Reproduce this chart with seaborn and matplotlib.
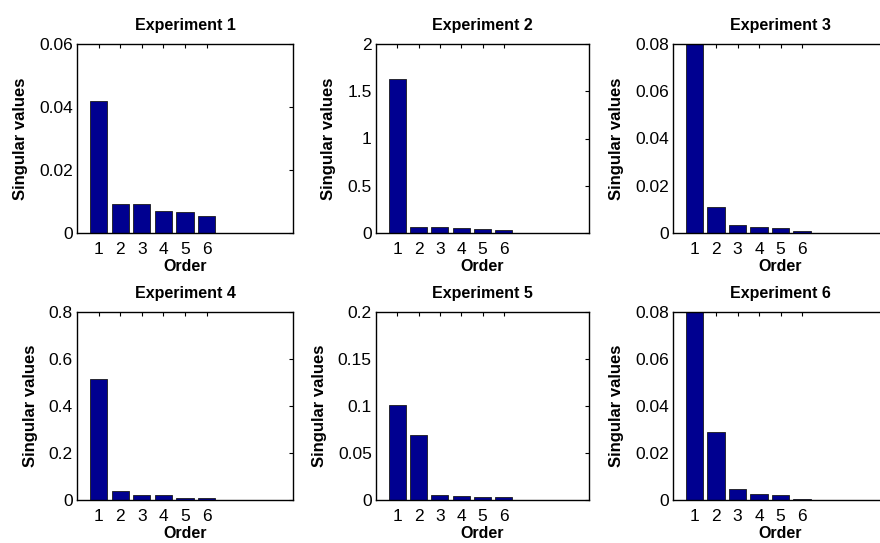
import matplotlib
matplotlib.use("Agg")
import matplotlib.pyplot as plt
import seaborn as sns
import pandas as pd

# singular values, per experiment
order = [1, 2, 3, 4, 5, 6]
exp1 = [0.0420, 0.0092, 0.0092, 0.0071, 0.0066, 0.0054]
exp2 = [1.63, 0.068, 0.068, 0.055, 0.040, 0.030]
exp3 = [0.090, 0.0111, 0.0033, 0.0027, 0.0021, 0.0010]   # first bar clipped by ylim
exp4 = [0.516, 0.037, 0.020, 0.020, 0.010, 0.010]
exp5 = [0.101, 0.069, 0.0055, 0.0045, 0.0030, 0.0030]
exp6 = [0.090, 0.029, 0.0045, 0.0027, 0.0021, 0.0005]   # first bar clipped by ylim

titles = ['Experiment 1', 'Experiment 2', 'Experiment 3',
          'Experiment 4', 'Experiment 5', 'Experiment 6']
ylims = [0.06, 2, 0.08, 0.8, 0.2, 0.08]
yticks = [[0, 0.02, 0.04, 0.06],
          [0, 0.5, 1, 1.5, 2],
          [0, 0.02, 0.04, 0.06, 0.08],
          [0, 0.2, 0.4, 0.6, 0.8],
          [0, 0.05, 0.1, 0.15, 0.2],
          [0, 0.02, 0.04, 0.06, 0.08]]
yticklabels = [['0', '0.02', '0.04', '0.06'],
               ['0', '0.5', '1', '1.5', '2'],
               ['0', '0.02', '0.04', '0.06', '0.08'],
               ['0', '0.2', '0.4', '0.6', '0.8'],
               ['0', '0.05', '0.1', '0.15', '0.2'],
               ['0', '0.02', '0.04', '0.06', '0.08']]
all_vals = [exp1, exp2, exp3, exp4, exp5, exp6]

sns.set_theme(style="white")
plt.rcParams['font.family'] = ['Liberation Sans', 'DejaVu Sans']
plt.rcParams['xtick.direction'] = 'in'
plt.rcParams['ytick.direction'] = 'in'
plt.rcParams['text.color'] = 'black'
plt.rcParams['axes.labelcolor'] = 'black'
plt.rcParams['xtick.color'] = 'black'
plt.rcParams['ytick.color'] = 'black'

W, H = 880, 543
fig = plt.figure(figsize=(W / 100, H / 100), dpi=100)

# axes boxes in pixels: left, top, right, bottom
cols = [(77, 293), (376, 589), (673, 888)]
rows = [(44, 233), (312, 500)]

for i, vals in enumerate(all_vals):
    r, c = divmod(i, 3)
    l, rr = cols[c]
    t, b = rows[r]
    ax = fig.add_axes([l / W, 1 - b / H, (rr - l) / W, (b - t) / H])
    df = pd.DataFrame({'order': order, 'value': vals})
    sns.barplot(data=df, x='order', y='value', native_scale=True, width=0.8,
                color='#000090', saturation=1, edgecolor='#1a1a1a',
                linewidth=0.6, ax=ax)
    ax.set_xlim(0, 10)
    ax.set_ylim(0, ylims[i])
    ax.set_xticks(order)
    ax.set_xticklabels([str(o) for o in order])
    ax.set_yticks(yticks[i])
    ax.set_yticklabels(yticklabels[i])
    ax.tick_params(axis='both', which='both', labelsize=12.5, length=3,
                   width=0.8, colors='black', top=True, right=True)
    ax.tick_params(axis='x', pad=6.5)
    ax.tick_params(axis='y', pad=3)
    for s in ax.spines.values():
        s.set_color('black')
        s.set_linewidth(1.0)
    ax.set_title(titles[i], fontsize=11.5, fontweight='bold', pad=10,
                 color='black')
    ax.set_xlabel('Order', fontsize=11.5, fontweight='bold', labelpad=1.5)
    ax.set_ylabel('Singular values', fontsize=12, fontweight='bold', labelpad=8)

fig.savefig('out.png', dpi=100)
